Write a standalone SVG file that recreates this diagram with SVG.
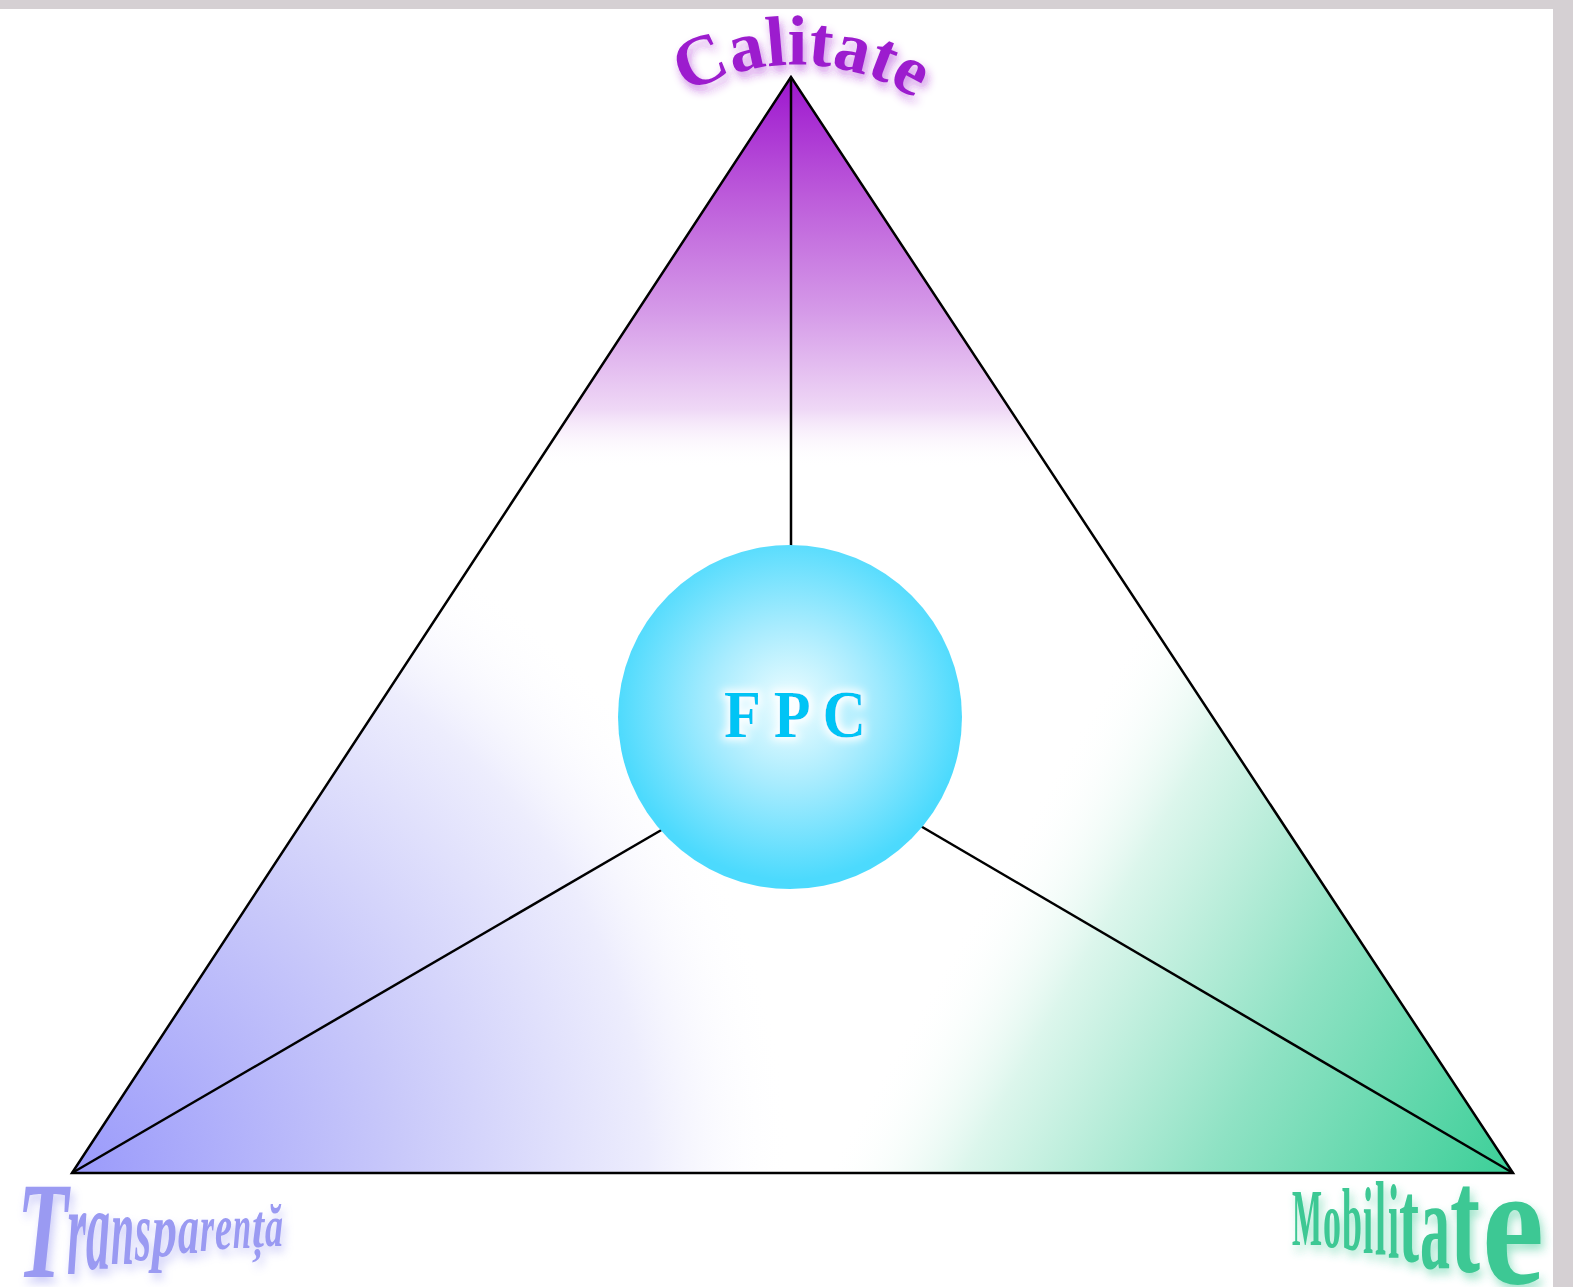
<svg xmlns="http://www.w3.org/2000/svg" width="1573" height="1287" viewBox="0 0 1573 1287">
  <defs>
    <style>
      .edge { fill: none; stroke: #000; stroke-width: 2.5; stroke-linejoin: miter; }
      .spoke { fill: none; stroke: #000; stroke-width: 2.5; }
      .serif { font-family: "Liberation Serif", "DejaVu Serif", serif; }
    </style>
    <linearGradient id="gPurple" gradientUnits="userSpaceOnUse" x1="0" y1="77" x2="0" y2="468">
      <stop offset="0" stop-color="#9d16ce" stop-opacity="1"/>
      <stop offset="0.3" stop-color="#bc5ada" stop-opacity="1"/>
      <stop offset="0.6" stop-color="#d59ae8" stop-opacity="1"/>
      <stop offset="0.85" stop-color="#efd8f6" stop-opacity="1"/>
      <stop offset="1" stop-color="#ffffff" stop-opacity="0"/>
    </linearGradient>
    <radialGradient id="gLav" gradientUnits="userSpaceOnUse" cx="72" cy="1173" r="720">
      <stop offset="0" stop-color="#9a9afb" stop-opacity="1"/>
      <stop offset="0.45" stop-color="#c8c8fa" stop-opacity="1"/>
      <stop offset="0.8" stop-color="#ededfd" stop-opacity="1"/>
      <stop offset="1" stop-color="#ffffff" stop-opacity="0"/>
    </radialGradient>
    <linearGradient id="gGreen" gradientUnits="userSpaceOnUse" x1="835" y1="1153" x2="1353" y2="1450">
      <stop offset="0" stop-color="#ffffff" stop-opacity="0"/>
      <stop offset="0.2" stop-color="#dcf6ec" stop-opacity="1"/>
      <stop offset="0.55" stop-color="#8fe2c4" stop-opacity="1"/>
      <stop offset="1" stop-color="#3ccf98" stop-opacity="1"/>
    </linearGradient>
    <radialGradient id="gBall" gradientUnits="userSpaceOnUse" cx="790" cy="705" r="175">
      <stop offset="0" stop-color="#effdff"/>
      <stop offset="0.45" stop-color="#a9ecfe"/>
      <stop offset="1" stop-color="#4cdafd"/>
    </radialGradient>
    <filter id="soft" x="-20%" y="-30%" width="140%" height="170%">
      <feGaussianBlur in="SourceGraphic" stdDeviation="5" result="b"/>
      <feOffset in="b" dx="3" dy="6" result="o"/>
      <feComponentTransfer in="o" result="s"><feFuncA type="linear" slope="0.5"/></feComponentTransfer>
      <feMerge><feMergeNode in="s"/><feMergeNode in="SourceGraphic"/></feMerge>
    </filter>
    <filter id="halo" x="-20%" y="-30%" width="140%" height="160%">
      <feFlood flood-color="#ffffff" result="w"/>
      <feComposite in="w" in2="SourceAlpha" operator="in" result="wa"/>
      <feMorphology in="wa" operator="dilate" radius="3" result="d"/>
      <feGaussianBlur in="d" stdDeviation="4" result="g"/>
      <feMerge><feMergeNode in="g"/><feMergeNode in="SourceGraphic"/></feMerge>
    </filter>
    <path id="arcCal" d="M 650 120 A 222 222 0 0 1 950 126"/>
  </defs>

  <rect x="0" y="0" width="1573" height="1287" fill="#ffffff"/>

  <g id="frame">
    <rect x="0" y="0" width="1573" height="9" fill="#d5d0d3"/>
    <rect x="1553" y="0" width="20" height="1287" fill="#d5d0d3"/>
  </g>

  <g id="triangle">
    <polygon points="791,77 72,1173 1513,1173" fill="#ffffff"/>
    <polygon points="791,77 72,1173 1513,1173" fill="url(#gPurple)"/>
    <polygon points="791,77 72,1173 1513,1173" fill="url(#gLav)"/>
    <polygon points="791,77 72,1173 1513,1173" fill="url(#gGreen)"/>
    <polygon class="edge" points="791,77 72,1173 1513,1173"/>
  </g>

  <g id="connectors">
    <line class="spoke" x1="791" y1="77" x2="791" y2="560"/>
    <line class="spoke" x1="72" y1="1173" x2="670" y2="825"/>
    <line class="spoke" x1="1513" y1="1173" x2="912" y2="821"/>
  </g>

  <g id="fpc">
    <circle cx="790" cy="717" r="172" fill="url(#gBall)"/>
    <text class="serif" x="795" y="737" text-anchor="middle" font-size="68" font-weight="bold" fill="#00c4f5" textLength="142" lengthAdjust="spacingAndGlyphs" filter="url(#halo)">F P C</text>
  </g>

  <g id="calitate">
    <text class="serif" font-size="71" font-weight="bold" fill="#9c1fce" filter="url(#soft)">
      <textPath href="#arcCal" startOffset="50%" text-anchor="middle">Calitate</textPath>
    </text>
  </g>

  <g id="transparenta">
    <text class="serif" font-style="italic" font-weight="bold" fill="#9a9af2" filter="url(#soft)"><tspan x="17" y="1277" font-size="138" textLength="51" lengthAdjust="spacingAndGlyphs">T</tspan><tspan x="67" y="1274" font-size="130" textLength="19" lengthAdjust="spacingAndGlyphs">r</tspan><tspan x="86" y="1269" font-size="118" textLength="24" lengthAdjust="spacingAndGlyphs">a</tspan><tspan x="111" y="1264" font-size="100" textLength="23" lengthAdjust="spacingAndGlyphs">n</tspan><tspan x="135" y="1260" font-size="86" textLength="16" lengthAdjust="spacingAndGlyphs">s</tspan><tspan x="152" y="1256" font-size="78" textLength="25" lengthAdjust="spacingAndGlyphs">p</tspan><tspan x="178" y="1253" font-size="72" textLength="21" lengthAdjust="spacingAndGlyphs">a</tspan><tspan x="200" y="1251" font-size="68" textLength="14" lengthAdjust="spacingAndGlyphs">r</tspan><tspan x="215" y="1249" font-size="66" textLength="17" lengthAdjust="spacingAndGlyphs">e</tspan><tspan x="233" y="1248" font-size="64" textLength="18" lengthAdjust="spacingAndGlyphs">n</tspan><tspan x="252" y="1247" font-size="62" textLength="12" lengthAdjust="spacingAndGlyphs">ț</tspan><tspan x="265" y="1246" font-size="60" textLength="18" lengthAdjust="spacingAndGlyphs">ă</tspan></text>
  </g>

  <g id="mobilitate">
    <text class="serif" font-weight="bold" fill="#3dc894" filter="url(#soft)"><tspan x="1292" y="1245" font-size="80" textLength="30" lengthAdjust="spacingAndGlyphs">M</tspan><tspan x="1323" y="1247" font-size="80" textLength="18" lengthAdjust="spacingAndGlyphs">o</tspan><tspan x="1342" y="1250" font-size="88" textLength="20" lengthAdjust="spacingAndGlyphs">b</tspan><tspan x="1363" y="1253" font-size="95" textLength="10" lengthAdjust="spacingAndGlyphs">i</tspan><tspan x="1375" y="1255" font-size="105" textLength="11" lengthAdjust="spacingAndGlyphs">l</tspan><tspan x="1388" y="1258" font-size="105" textLength="11" lengthAdjust="spacingAndGlyphs">i</tspan><tspan x="1399" y="1262" font-size="118" textLength="20" lengthAdjust="spacingAndGlyphs">t</tspan><tspan x="1420" y="1268" font-size="126" textLength="30" lengthAdjust="spacingAndGlyphs">a</tspan><tspan x="1450" y="1272" font-size="150" textLength="30" lengthAdjust="spacingAndGlyphs">t</tspan><tspan x="1482" y="1283" font-size="174" textLength="62" lengthAdjust="spacingAndGlyphs">e</tspan></text>
  </g>
</svg>
